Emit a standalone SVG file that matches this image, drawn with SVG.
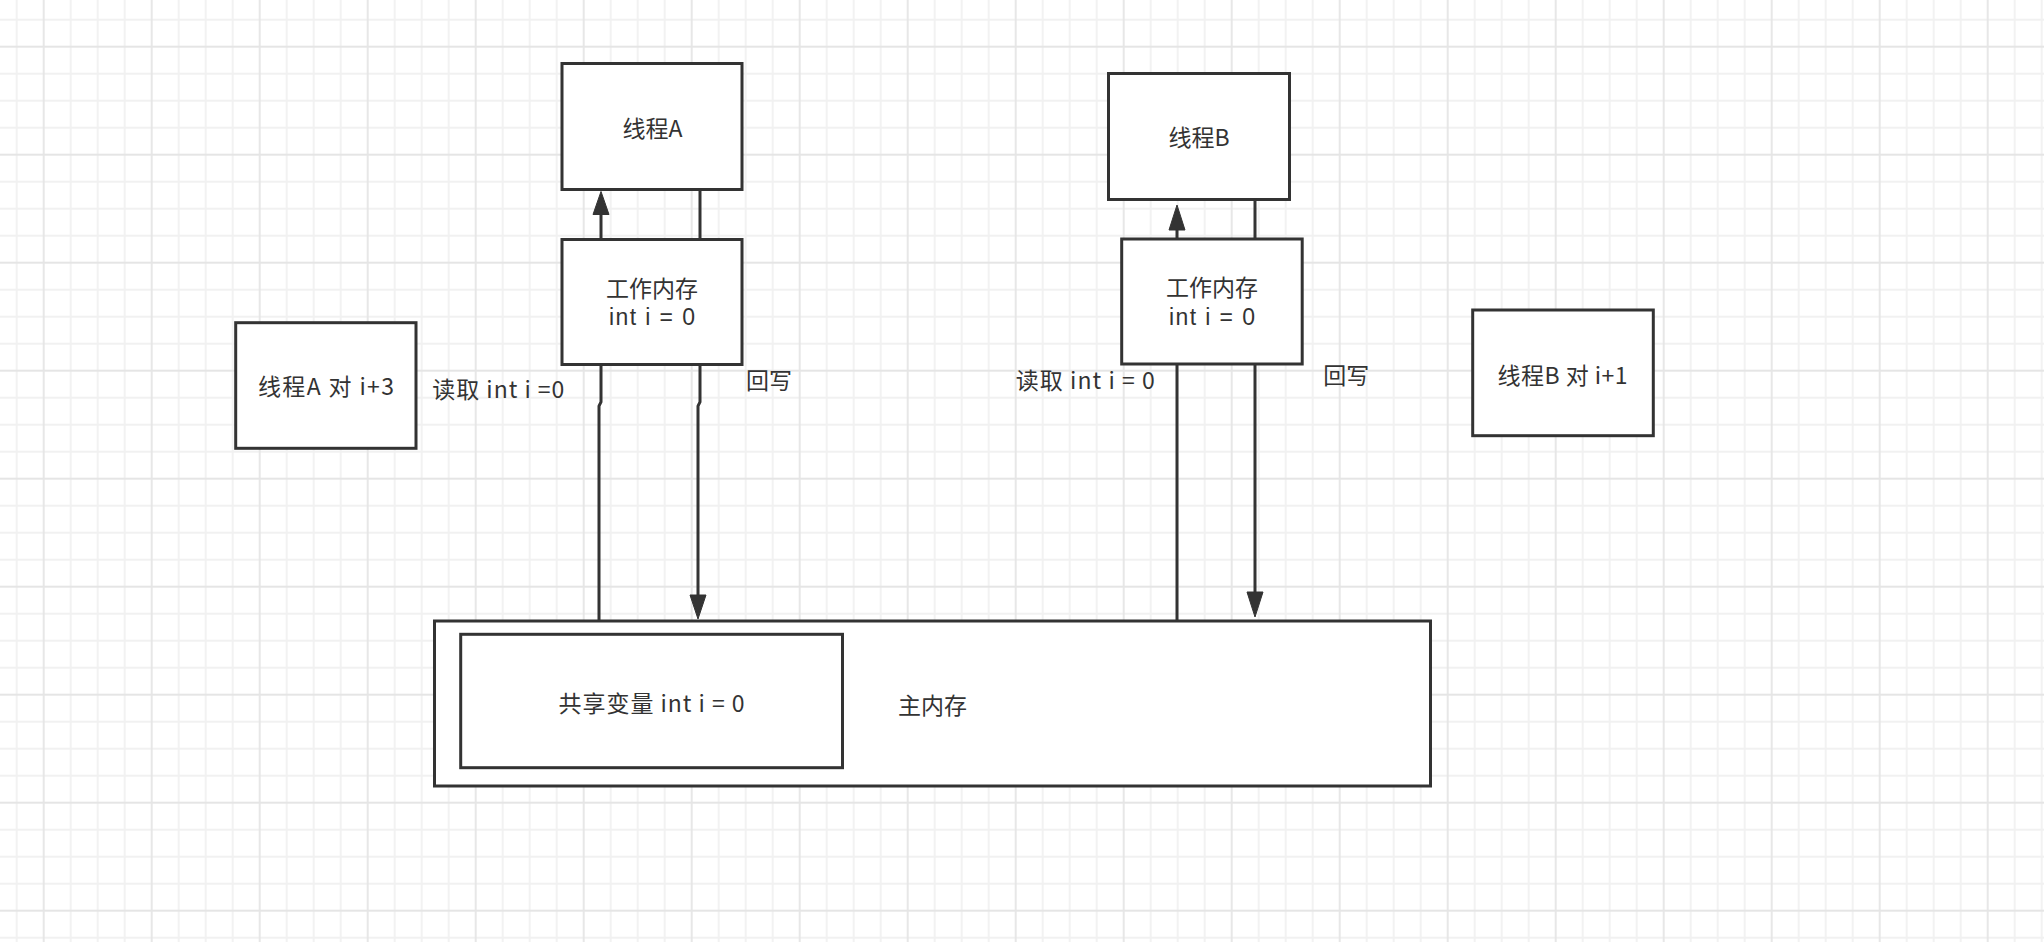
<svg xmlns="http://www.w3.org/2000/svg" width="2044" height="942" viewBox="0 0 2044 942">
<style>
.box{fill:#ffffff;stroke:#333333;stroke-width:3}
.lbl{font-family:"Noto Sans CJK SC","Noto Sans",sans-serif;font-size:23px;fill:#333333;text-anchor:middle}
.lat{font-family:"Liberation Sans","Noto Sans",sans-serif;font-size:23px;fill:#333333;text-anchor:middle}
.edge{fill:none;stroke:#333333;stroke-width:3}
.head{fill:#333333;stroke:#333333;stroke-width:1}
</style>
<defs>
<pattern id="grid" patternUnits="userSpaceOnUse" x="42.7" y="45.7" width="108" height="108">
<path d="M28 0V108M55 0V108M82 0V108M0 28H108M0 55H108M0 82H108" stroke="#f1f1f1" stroke-width="1.8" fill="none"/>
<path d="M1 0V108M0 1H108" stroke="#e5e5e5" stroke-width="1.8" fill="none"/>
</pattern>
</defs>
<rect x="0" y="0" width="2044" height="942" fill="#ffffff"/>
<rect x="0" y="0" width="2044" height="942" fill="url(#grid)"/>

<g id="main-memory">
<rect class="box" x="434.5" y="621" width="996" height="165"/>
<text class="lbl" x="932.5" y="713.5">主内存</text>
</g>
<g id="shared-var">
<rect class="box" x="460.7" y="634.3" width="381.8" height="133.4"/>
<text class="lbl" x="651.5" y="712" textLength="186">共享变量 int i = 0</text>
</g>
<g id="thread-a">
<rect class="box" x="562" y="63.5" width="180" height="126"/>
<text class="lbl" x="652.5" y="136.5">线程A</text>
</g>
<g id="work-mem-a">
<rect class="box" x="562" y="239.5" width="180" height="125"/>
<text class="lbl" x="652" y="296.5">工作内存</text>
<text class="lat" x="652" y="325" textLength="86">int i = 0</text>
</g>
<g id="thread-b">
<rect class="box" x="1108.5" y="73.5" width="181" height="126"/>
<text class="lbl" x="1199" y="146">线程B</text>
</g>
<g id="work-mem-b">
<rect class="box" x="1121.7" y="239" width="180.5" height="125"/>
<text class="lbl" x="1212" y="296">工作内存</text>
<text class="lat" x="1212" y="325" textLength="86">int i = 0</text>
</g>
<g id="thread-a-op">
<rect class="box" x="235.7" y="322.7" width="180.3" height="125.6"/>
<text class="lbl" x="326" y="394.5" textLength="136">线程A 对 i+3</text>
</g>
<g id="thread-b-op">
<rect class="box" x="1472.7" y="310" width="180.6" height="125.7"/>
<text class="lbl" x="1562.5" y="383.5" textLength="130">线程B 对 i+1</text>
</g>

<g id="connectors">
<path class="edge" d="M599 620V406L601 402V365"/>
<path class="edge" d="M601 239V213"/>
<polygon class="head" points="601,191.5 593,214.5 609,214.5"/>
<path class="edge" d="M700 189.5V239.5"/>
<path class="edge" d="M700 365V402L698 406V596"/>
<polygon class="head" points="698,619 690,595 706,595"/>
<path class="edge" d="M1177 620V364"/>
<path class="edge" d="M1177 239V229"/>
<polygon class="head" points="1177,205 1169,230 1185,230"/>
<path class="edge" d="M1255 199.5V239"/>
<path class="edge" d="M1255 364V593"/>
<polygon class="head" points="1255,617 1247,592 1263,592"/>
<text class="lbl" x="498.3" y="398" textLength="132">读取 int i =0</text>
<text class="lbl" x="769" y="389">回写</text>
<text class="lbl" x="1085.3" y="389" textLength="139">读取 int i = 0</text>
<text class="lbl" x="1346.3" y="383.5">回写</text>
</g>
</svg>
